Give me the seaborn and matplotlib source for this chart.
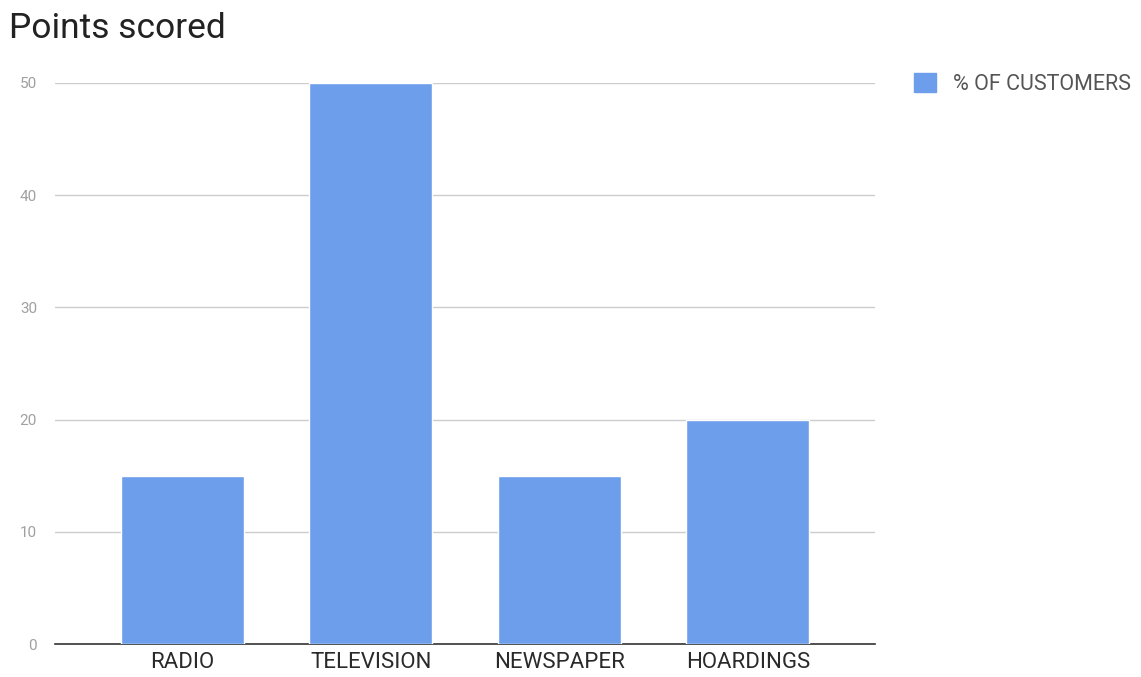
import matplotlib
matplotlib.use("Agg")
import matplotlib.pyplot as plt
import seaborn as sns
import pandas as pd
from matplotlib.patches import Patch

categories = ["RADIO", "TELEVISION", "NEWSPAPER", "HOARDINGS"]
values = [15, 50, 15, 20]
series_name = "% OF CUSTOMERS"
title = "Points scored"
yticks = [0, 10, 20, 30, 40, 50]

sns.set_theme(style="white")
plt.rcParams['font.family'] = ['Roboto', 'DejaVu Sans']

df = pd.DataFrame({"category": categories, "value": values})
color = "#6d9eeb"

fig = plt.figure(figsize=(11.41, 6.77), dpi=100)
ax = fig.add_axes([55/1141, 1-644/677, (875-55)/1141, (644-83)/677])
sns.barplot(data=df, x="category", y="value", color=color, width=0.65,
            saturation=1, ax=ax, zorder=3)
ax.set_xlim(-0.675, 3.675)
ax.set_ylim(0, 50)
ax.set_yticks(yticks)
ax.yaxis.grid(True, color="#cccccc", linewidth=1, zorder=0)
ax.set_axisbelow(True)
for s in ["top", "right", "left"]:
    ax.spines[s].set_visible(False)
ax.spines["bottom"].set_color("#333333")
ax.spines["bottom"].set_linewidth(1.2)
ax.tick_params(axis="y", length=0, labelsize=11, labelcolor="#a0a0a0", pad=13)
ax.tick_params(axis="x", length=0, labelsize=16, labelcolor="#2a2a2a", pad=6)
ax.set_xlabel("")
ax.set_ylabel("")

fig.text(9/1141, 1-28/677, title, fontsize=25.5, color="#222222", va="center", ha="left")

handle = Patch(facecolor=color, edgecolor=color)
fig.legend([handle], [series_name], loc="center left", bbox_to_anchor=(895/1141, 1-84/677),
           frameon=False, fontsize=15.5, handlelength=1.0, handleheight=1.0,
           handletextpad=0.8, labelcolor="#555555")

fig.savefig("out.png", dpi=100)
